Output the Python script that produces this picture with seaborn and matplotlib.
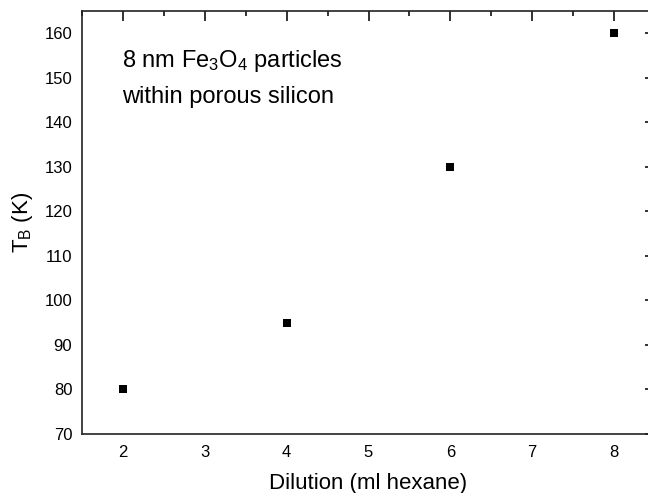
import numpy as np
import pandas as pd
import matplotlib
matplotlib.use("Agg")
import matplotlib.pyplot as plt
import seaborn as sns
from matplotlib.ticker import MultipleLocator

# values
dilution = [2, 4, 6, 8]
t_block = [80, 95, 130, 160]

df = pd.DataFrame({"dilution": dilution, "tb": t_block})

sns.set_style("white")
plt.rcParams['font.family'] = ['Liberation Sans', 'DejaVu Sans']
plt.rcParams['mathtext.fontset'] = 'custom'
plt.rcParams['mathtext.rm'] = 'Liberation Sans'
plt.rcParams['mathtext.it'] = 'Liberation Sans:italic'
plt.rcParams['text.color'] = 'black'
plt.rcParams['axes.labelcolor'] = 'black'

fig = plt.figure(figsize=(6.48, 4.93), dpi=100)
# right edge of the frame runs off the picture, as in the reference
ax = fig.add_axes([82 / 648, 59 / 493, 573 / 648, 423 / 493])

sns.scatterplot(data=df, x="dilution", y="tb", marker="s", s=30,
                color="black", edgecolor="black", linewidth=0, ax=ax)

ax.set_xlim(1.5, 8.5)
ax.set_ylim(70, 165)
ax.xaxis.set_major_locator(MultipleLocator(1))
ax.xaxis.set_minor_locator(MultipleLocator(0.5))
ax.yaxis.set_major_locator(MultipleLocator(10))
ax.yaxis.set_minor_locator(MultipleLocator(5))
ax.set_xticks([2, 3, 4, 5, 6, 7, 8])
ax.tick_params(which='both', direction='in', top=True, right=True,
               width=1.3, colors='#222222', labelcolor='black', labelsize=12)
ax.tick_params(which='major', length=7)
ax.tick_params(axis='x', which='major', pad=8)
ax.tick_params(axis='y', which='major', pad=7)
ax.tick_params(which='minor', length=3.5)
for sp in ax.spines.values():
    sp.set_linewidth(1.2)
    sp.set_color('#222222')

ax.set_xlabel("Dilution (ml hexane)", fontsize=16, labelpad=9)
ax.set_ylabel("T$_\\mathregular{B}$ (K)", fontsize=16, labelpad=7)

ax.text(0.07, 0.868, "8 nm Fe$_\\mathregular{3}$O$_\\mathregular{4}$ particles",
        transform=ax.transAxes, fontsize=17, va='baseline', ha='left')
ax.text(0.07, 0.783, "within porous silicon",
        transform=ax.transAxes, fontsize=17, va='baseline', ha='left')

fig.savefig("out.png", dpi=100)
